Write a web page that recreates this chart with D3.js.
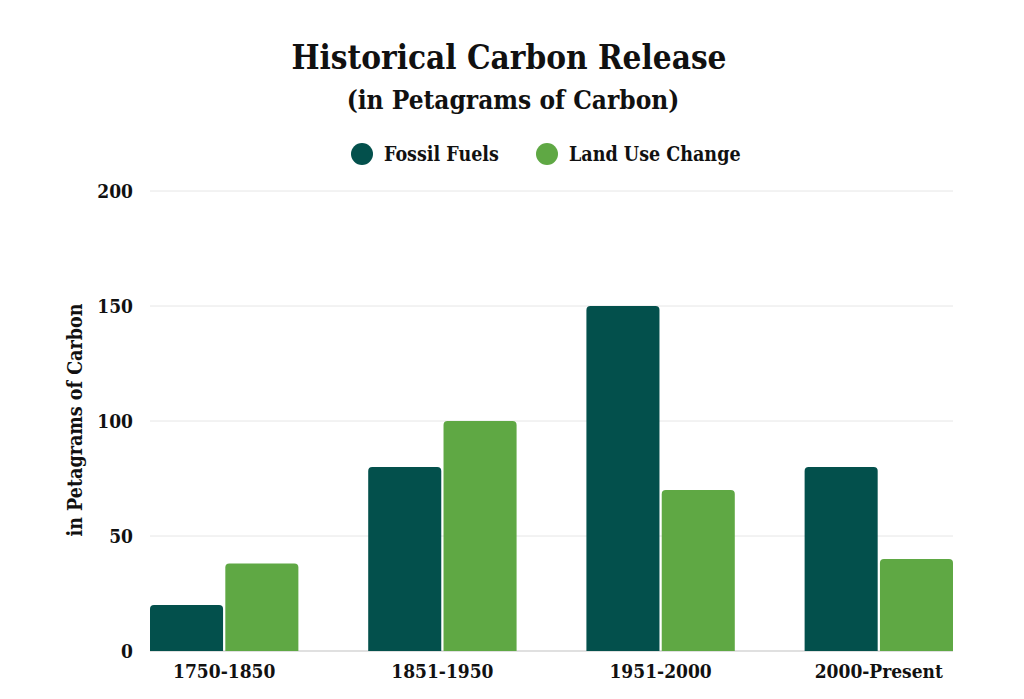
<!DOCTYPE html>
<html>
<head>
<meta charset="utf-8">
<script src="https://cdn.jsdelivr.net/npm/d3@7"></script>
<style>
  body { margin: 0; background: #fff; }
  text { font-family: "DejaVu Serif Condensed", "DejaVu Serif", serif; font-stretch: condensed; font-weight: bold; fill: #111; }
</style>
</head>
<body>
<div id="chart-area"></div>
<script>
// data
const periods = ["1750-1850", "1851-1950", "1951-2000", "2000-Present"]
const seriesNames = ["Fossil Fuels", "Land Use Change"]
const fossilFuels = [20, 80, 150, 80]
const landUseChange = [38, 100, 70, 40]
const yTicks = [0, 50, 100, 150, 200]

const COLORS = ["#03504c", "#5fa844"]
const FONT = "\"DejaVu Serif Condensed\", \"DejaVu Serif\", serif"
const WIDTH = 1024, HEIGHT = 699
const MARGIN = { LEFT: 150, RIGHT: 71, TOP: 191, BOTTOM: 48 }

const svg = d3.select("#chart-area").append("svg")
  .attr("width", WIDTH)
  .attr("height", HEIGHT)

const data = periods.map((p, i) => ({ period: p, values: [fossilFuels[i], landUseChange[i]] }))

const x0 = d3.scaleBand()
  .domain(periods)
  .range([MARGIN.LEFT, WIDTH - MARGIN.RIGHT])
  .paddingInner(0.32)
  .paddingOuter(0)

const x1 = d3.scaleBand()
  .domain(seriesNames)
  .range([0, x0.bandwidth()])
  .paddingInner(0.03)

const y = d3.scaleLinear()
  .domain([0, 200])
  .range([HEIGHT - MARGIN.BOTTOM, MARGIN.TOP])

// gridlines
svg.append("g")
  .selectAll("line")
  .data(yTicks)
  .enter().append("line")
    .attr("x1", MARGIN.LEFT)
    .attr("x2", WIDTH - MARGIN.RIGHT)
    .attr("y1", d => y(d))
    .attr("y2", d => y(d))
    .attr("stroke", d => d === 0 ? "#d6d6d6" : "#e6e6e6")
    .attr("stroke-width", d => d === 0 ? 1.5 : 1)

// y axis
const yAxis = d3.axisLeft(y).tickValues(yTicks).tickSize(0).tickPadding(17)
svg.append("g")
  .attr("transform", `translate(${MARGIN.LEFT},0)`)
  .call(yAxis)
  .call(g => g.select(".domain").remove())
  .selectAll("text")
    .style("font-size", "19px")
    .style("font-family", FONT)
    .style("font-weight", "bold")
    .attr("fill", "#111")

// x axis
const xAxis = d3.axisBottom(x0).tickSize(0).tickPadding(14)
svg.append("g")
  .attr("transform", `translate(0,${HEIGHT - MARGIN.BOTTOM})`)
  .call(xAxis)
  .call(g => g.select(".domain").remove())
  .selectAll("text")
    .style("font-size", "19px")
    .style("font-family", FONT)
    .style("font-weight", "bold")
    .attr("fill", "#111")

// bars with rounded tops
const r = 4
const barPath = (x, yTop, w, yBase) => {
  const h = yBase - yTop
  const rr = Math.min(r, h / 2)
  return `M${x},${yBase}V${yTop + rr}Q${x},${yTop} ${x + rr},${yTop}H${x + w - rr}Q${x + w},${yTop} ${x + w},${yTop + rr}V${yBase}Z`
}

const groups = svg.selectAll(".group")
  .data(data)
  .enter().append("g")
    .attr("class", "group")
    .attr("transform", d => `translate(${x0(d.period)},0)`)

groups.selectAll("path")
  .data(d => d.values.map((v, i) => ({ key: seriesNames[i], value: v, i })))
  .enter().append("path")
    .attr("d", d => barPath(x1(d.key), y(d.value), x1.bandwidth(), y(0)))
    .attr("fill", d => COLORS[d.i])

// y label
svg.append("text")
  .attr("transform", `translate(82,420) rotate(-90)`)
  .attr("text-anchor", "middle")
  .style("font-size", "19.5px")
  .text("in Petagrams of Carbon")

// title
svg.append("text")
  .attr("x", 509).attr("y", 69)
  .attr("text-anchor", "middle")
  .style("font-size", "33px")
  .text("Historical Carbon Release")

svg.append("text")
  .attr("x", 513).attr("y", 109)
  .attr("text-anchor", "middle")
  .style("font-size", "26px")
  .text("(in Petagrams of Carbon)")

// legend
const legendX = [362, 547]
const legend = svg.selectAll(".legend")
  .data(seriesNames)
  .enter().append("g")
    .attr("class", "legend")
    .attr("transform", (d, i) => `translate(${legendX[i]},154)`)
legend.append("circle")
  .attr("r", 11)
  .attr("fill", (d, i) => COLORS[i])
legend.append("text")
  .attr("x", 22)
  .attr("y", 7)
  .style("font-size", "19.5px")
  .text(d => d)
</script>
</body>
</html>
